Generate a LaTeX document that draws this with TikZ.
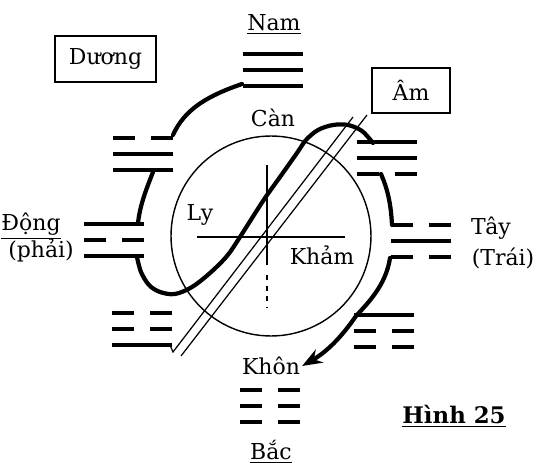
\documentclass[tikz,border=0pt]{standalone}
\usepackage{fontspec}
\setmainfont{DejaVu Serif}
\usetikzlibrary{arrows.meta,calc}

\tikzset{
  hao/.style={line width=2.6pt},
  net/.style={line width=2.4pt,line cap=round},
  chu/.style={font=\fontsize{12.5}{14}\selectfont,inner sep=1pt},
  khung/.style={draw,line width=1pt,chu}
}

% mot que: ten, x giua, y vach tren, kieu vach (1 lien, 0 dut)
\newcommand{\que}[4]{%
  \coordinate (#1) at (#2,#3);
  \foreach \v [count=\i from 0] in {#4}{%
    \ifnum\v=1
      \draw[hao] ($(#1)+(-30,16*\i)$) -- ++(60,0);
    \else
      \draw[hao] ($(#1)+(-30,16*\i)$) -- ++(22,0) ++(16,0) -- ++(22,0);
    \fi}%
}

\begin{document}
\begin{tikzpicture}[x=0.02cm,y=-0.02cm,>={Stealth[length=4mm,width=3mm]}]
  \useasboundingbox (0,0) rectangle (539,463);
  % vong tron, chu thap
  \draw[line width=0.8pt] (271,236) circle[radius=2cm];
  \draw[line width=1pt] (197,237) -- (345,237);
  \draw[line width=1pt] (267,165) -- (267,265);
  \draw[line width=0.8pt,dashed] (267,275) -- (267,307);
  % tam que
  \que{qCan}{273}{54}{1,1,1}
  \que{qTon}{387}{142}{1,1,0}
  \que{qKham}{421}{225}{0,1,0}
  \que{qCon}{384}{315}{1,0,0}
  \que{qKhon}{270}{390}{0,0,0}
  \que{qChan}{142}{313}{0,0,1}
  \que{qLy}{114}{224}{1,0,1}
  \que{qDoai}{143}{138}{0,1,1}
  % chu
  \node[chu] (nam) at (274,24) {\underline{Nam}};
  \node[khung,minimum width=2.02cm,minimum height=0.92cm] (duong) at (105.5,59) {Dương};
  \node[khung,minimum width=1.56cm,minimum height=0.9cm] (am) at (411,90.5) {Âm};
  \node[chu] (can) at (273,118) {Càn};
  \node[chu] (ly) at (200,215) {Ly};
  \node[chu] (kham) at (322,255) {Khảm};
  \node[chu] (dong) at (31,226) {\underline{Động}};
  \node[chu] (phai) at (41,250) {(phải)};
  \node[chu] (tay) at (491,228) {Tây};
  \node[chu] (trai) at (503,258) {(Trái)};
  \node[chu] (khon) at (271,366) {Khôn};
  \node[chu] (bac) at (271,452) {\underline{Bắc}};
  \node[chu,font=\bfseries\fontsize{13}{15}\selectfont] (hinh) at (454,416) {\underline{Hình 25}};
  % duong ke doi
  \draw[line width=0.7pt] (170,345) -- (173,352) -- (353,117);
  \draw[line width=0.7pt] (181,356) -- (367,115);
  % net dam
  \draw[net] (242,84) .. controls (210,95) and (185,108) .. (173,135);
  \draw[net] (153,172) .. controls (146,190) and (140,205) .. (138,223);
  \draw[net] plot[smooth,tension=0.55] coordinates {(137,257) (141,272) (149,285) (160,292)
    (175,294) (192,287) (210,273) (227,256) (240,237) (263,201) (280,177) (297,153)
    (306,140) (318,130) (333,125) (348,125) (362,131) (373,143)};
  \draw[net] (381,174) .. controls (388,190) and (391,205) .. (392,225);
  \draw[net,->] (390,258) .. controls (386,285) and (368,303) .. (356,316)
    .. controls (345,332) and (330,350) .. (khon.east);
\end{tikzpicture}
\end{document}
